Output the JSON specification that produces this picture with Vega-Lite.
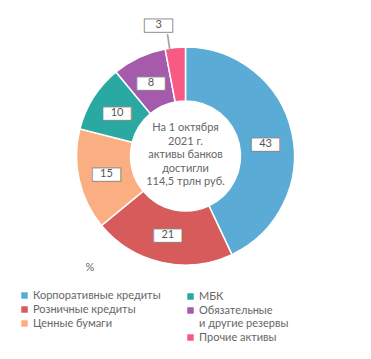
{
  "$schema": "https://vega.github.io/schema/vega-lite/v6.json",
  "width": 371,
  "height": 312,
  "autosize": {"type": "none"},
  "padding": {"left": 0, "top": 0, "right": 0, "bottom": 47},
  "background": "white",
  "config": {"view": {"stroke": null}, "font": "Lato"},
  "datasets": {
    "assets": [
      {"cat": "Корпоративные кредиты", "value": 43},
      {"cat": "Розничные кредиты", "value": 21},
      {"cat": "Ценные бумаги", "value": 15},
      {"cat": "МБК", "value": 10},
      {"cat": "Обязательные и другие резервы", "value": 8},
      {"cat": "Прочие активы", "value": 3}
    ],
    "caption": [
      {"note": "На 1 октября\n2021 г.\nактивы банков\nдостигли\n114,5 трлн руб."}
    ]
  },
  "layer": [
    {
      "data": {"name": "assets"},
      "encoding": {
        "theta": {"field": "value", "type": "quantitative", "stack": true},
        "order": {"field": "value", "type": "quantitative", "sort": "descending"}
      },
      "layer": [
        {
          "mark": {"type": "arc", "outerRadius": 109, "innerRadius": 55, "stroke": "white", "strokeWidth": 1.5},
          "encoding": {
            "fill": {
              "field": "cat", "type": "nominal",
              "scale": {
                "domain": ["Корпоративные кредиты", "Розничные кредиты", "Ценные бумаги", "МБК", "Обязательные и другие резервы", "Прочие активы"],
                "range": ["#5aabd5", "#d75b5b", "#fcae83", "#2aa9a2", "#a65aac", "#f95985"]
              },
              "legend": {
                "orient": "none", "legendX": 19, "legendY": 262,
                "values": ["Корпоративные кредиты", "Розничные кредиты", "Ценные бумаги"],
                "title": "%", "titleAnchor": "middle", "titleFontWeight": "normal", "titleFontSize": 11,
                "titleColor": "#666666", "titleFont": "Lato", "titlePadding": 17,
                "symbolType": "square", "symbolSize": 42, "symbolStrokeWidth": 0,
                "labelFont": "Lato", "labelFontSize": 11, "labelColor": "#666666", "labelOffset": 3,
                "labelLimit": 300, "rowPadding": 2, "padding": 0
              }
            }
          }
        },
        {
          "mark": {"type": "arc", "outerRadius": 109, "innerRadius": 55, "stroke": "white", "strokeWidth": 1.5},
          "encoding": {
            "color": {
              "field": "cat", "type": "nominal",
              "scale": {
                "domain": ["МБК", "Обязательные и другие резервы", "Прочие активы", "Корпоративные кредиты", "Розничные кредиты", "Ценные бумаги"],
                "range": ["#2aa9a2", "#a65aac", "#f95985", "#5aabd5", "#d75b5b", "#fcae83"]
              },
              "legend": {
                "orient": "none", "legendX": 185, "legendY": 291,
                "values": ["МБК", "Обязательные и другие резервы", "Прочие активы"],
                "title": null,
                "labelExpr": "datum.label == 'Обязательные и другие резервы' ? ['Обязательные', 'и другие резервы'] : datum.label",
                "symbolType": "square", "symbolSize": 42, "symbolStrokeWidth": 0,
                "labelFont": "Lato", "labelFontSize": 11, "labelColor": "#666666", "labelOffset": 3,
                "labelLimit": 300, "rowPadding": 2, "padding": 0
              }
            }
          }
        },
        {
          "mark": {"type": "text", "text": "—", "font": "DejaVu Sans", "fontSize": 18, "radius": 81,
                   "align": "center", "baseline": "middle",
                   "fill": "#8a8a8a", "stroke": "#8a8a8a", "strokeWidth": 13, "strokeJoin": "miter"},
          "encoding": {"opacity": {"condition": {"test": "datum.cat == 'Прочие активы' || datum.cat == 'Корпоративные кредиты'", "value": 0}, "value": 1}}
        },
        {
          "mark": {"type": "text", "text": "—", "font": "DejaVu Sans", "fontSize": 18, "radius": 81,
                   "align": "center", "baseline": "middle",
                   "fill": "white", "stroke": "white", "strokeWidth": 11, "strokeJoin": "miter"},
          "encoding": {"opacity": {"condition": {"test": "datum.cat == 'Прочие активы' || datum.cat == 'Корпоративные кредиты'", "value": 0}, "value": 1}}
        },
        {
          "mark": {"type": "text", "font": "Lato", "fontSize": 11, "radius": 81, "align": "center", "baseline": "middle", "fill": "#555555"},
          "encoding": {
            "text": {"field": "value", "type": "quantitative"},
            "opacity": {"condition": {"test": "datum.cat == 'Прочие активы' || datum.cat == 'Корпоративные кредиты'", "value": 0}, "value": 1}
          }
        },
        {
          "mark": {"type": "text", "text": "—", "font": "DejaVu Sans", "fontSize": 18, "radius": 81, "dx": 1, "dy": 6,
                   "align": "center", "baseline": "middle",
                   "fill": "#8a8a8a", "stroke": "#8a8a8a", "strokeWidth": 13, "strokeJoin": "miter"},
          "encoding": {"opacity": {"condition": {"test": "datum.cat == 'Корпоративные кредиты'", "value": 1}, "value": 0}}
        },
        {
          "mark": {"type": "text", "text": "—", "font": "DejaVu Sans", "fontSize": 18, "radius": 81, "dx": 1, "dy": 6,
                   "align": "center", "baseline": "middle",
                   "fill": "white", "stroke": "white", "strokeWidth": 11, "strokeJoin": "miter"},
          "encoding": {"opacity": {"condition": {"test": "datum.cat == 'Корпоративные кредиты'", "value": 1}, "value": 0}}
        },
        {
          "mark": {"type": "text", "font": "Lato", "fontSize": 11, "radius": 81, "dx": 1, "dy": 6, "align": "center", "baseline": "middle", "fill": "#555555"},
          "encoding": {
            "text": {"field": "value", "type": "quantitative"},
            "opacity": {"condition": {"test": "datum.cat == 'Корпоративные кредиты'", "value": 1}, "value": 0}
          }
        },
        {
          "mark": {"type": "text", "text": "|", "font": "Liberation Sans", "fontSize": 18, "radius": 115, "angle": -8, "dx": -6,
                   "align": "center", "baseline": "middle", "fill": "#999999"},
          "encoding": {"opacity": {"condition": {"test": "datum.cat == 'Прочие активы'", "value": 1}, "value": 0}}
        },
        {
          "mark": {"type": "text", "text": "—", "font": "DejaVu Sans", "fontSize": 18, "radius": 131.5, "dx": -14.5,
                   "align": "center", "baseline": "middle",
                   "fill": "#8a8a8a", "stroke": "#8a8a8a", "strokeWidth": 13, "strokeJoin": "miter"},
          "encoding": {"opacity": {"condition": {"test": "datum.cat == 'Прочие активы'", "value": 1}, "value": 0}}
        },
        {
          "mark": {"type": "text", "text": "—", "font": "DejaVu Sans", "fontSize": 18, "radius": 131.5, "dx": -14.5,
                   "align": "center", "baseline": "middle",
                   "fill": "white", "stroke": "white", "strokeWidth": 11, "strokeJoin": "miter"},
          "encoding": {"opacity": {"condition": {"test": "datum.cat == 'Прочие активы'", "value": 1}, "value": 0}}
        },
        {
          "mark": {"type": "text", "font": "Lato", "fontSize": 11, "radius": 131.5, "dx": -14.5, "align": "center", "baseline": "middle", "fill": "#555555"},
          "encoding": {
            "text": {"field": "value", "type": "quantitative"},
            "opacity": {"condition": {"test": "datum.cat == 'Прочие активы'", "value": 1}, "value": 0}
          }
        }
      ]
    },
    {
      "data": {"name": "caption"},
      "mark": {"type": "text", "lineBreak": "\n", "font": "Lato", "fontSize": 11, "lineHeight": 13.6, "dy": -28,
               "align": "center", "baseline": "middle", "fill": "#666666"},
      "encoding": {"text": {"field": "note", "type": "nominal"}}
    }
  ]
}
